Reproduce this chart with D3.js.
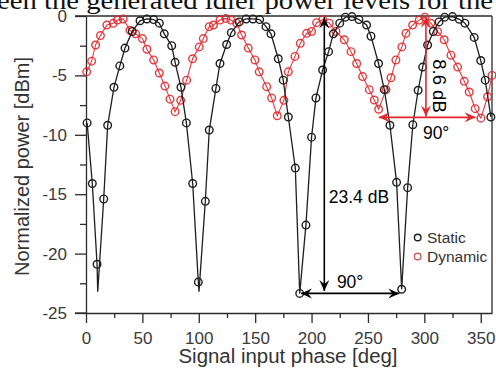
<!DOCTYPE html>
<html><head><meta charset="utf-8">
<script src="https://cdn.jsdelivr.net/npm/d3@7"></script>
<style>
html,body{margin:0;padding:0;background:#fff;}
svg{display:block;}
text{font-family:"Liberation Sans",Arial,Helvetica,sans-serif;}
</style></head>
<body>
<svg id="c" width="496" height="376"></svg>
<script>
// ---- data ----
const staticPhase = [1,5.6,9.8,15.7,19.2,24.8,30,34.6,41,47.9,54,60,65,69.4,76,79,84.2,89,94.6,99.6,105.8,109.3,115.2,118.8,124.7,128.8,135.9,142,148,154,159.6,164,170.5,174.9,179.4,185.6,189.5,195,200,203.9,209.8,215.1,219.3,225,230,235.8,242,248.8,252.7,259.4,264.5,269.5,275.4,279.9,285.2,289.8,294.5,298.5,302.9,308,313,318,325,331,336,344.2,350,354,359];
const staticPower = [-9.0,-14.1,-20.9,-15.4,-9.2,-6.0,-4.2,-2.7,-1.3,-0.4,-0.25,-0.3,-0.6,-1.5,-2.5,-3.9,-6.0,-9.0,-14.1,-22.4,-15.6,-9.6,-6.1,-4.0,-2.4,-1.4,-0.5,-0.25,-0.25,-0.3,-0.9,-1.5,-3.6,-5.4,-8.5,-12.8,-23.35,-17.6,-10.2,-6.9,-4.55,-3.0,-1.5,-0.6,-0.1,-0.05,-0.3,-0.76,-1.7,-4.0,-6.2,-9.2,-14.0,-23.0,-14.45,-9.15,-6.25,-4.3,-2.44,-1.3,-0.5,-0.1,-0.05,-0.28,-0.6,-1.8,-3.75,-5.4,-8.5];
// extra vertices of the static curve at its two deepest nulls
const staticNullPhase = [10.4,100.2];
const staticNullPower = [-23.2,-23.2];

const dynamicPhase = [0.6,5,8.5,12.8,18.5,24.2,28,33,39,44,50,54,60,65,70,74.5,79,84,89.2,94.5,100.4,104,109.3,113,118.8,124,128.5,133.6,138,143.9,149.8,153.6,160.2,164.6,169.6,175.5,179.4,185.3,190,195.6,200,204.5,210,215.7,221.6,229,235,240,245.3,251.2,255.6,259.5,266,270.4,274.8,280.1,283.7,289.6,295.5,300.5,305.9,311.8,317.6,323.6,329.5,335.4,339.8,345.1,350.2,356.1,360];
const dynamicPower = [-4.7,-3.8,-2.44,-1.65,-0.76,-0.62,-0.34,-0.25,-1.2,-1.5,-1.9,-2.8,-3.7,-4.8,-5.9,-7.0,-8.05,-7.1,-5.4,-3.6,-2.6,-1.9,-0.9,-0.76,-0.34,-0.2,-0.34,-0.6,-1.6,-2.7,-3.7,-4.7,-5.95,-6.9,-8.4,-7.1,-4.7,-3.4,-2.3,-1.46,-1.3,-0.56,-0.3,-0.6,-1.3,-2.0,-3.0,-4.0,-5.1,-6.2,-7.07,-7.85,-6.2,-5.2,-3.7,-2.6,-1.46,-0.76,-0.34,-0.1,-0.62,-1.32,-2.0,-3.3,-4.3,-5.5,-6.4,-7.8,-8.6,-6.8,-5.0];

const xTicks = [0,50,100,150,200,250,300,350];
const xMinorTicks = [25,75,125,175,225,275,325];
const yTicks = [0,-5,-10,-15,-20,-25];
const yMinorTicks = [-2.5,-7.5,-12.5,-17.5,-22.5];

const seriesNames = ["Static","Dynamic"];
const xTitle = "Signal input phase [deg]";
const yTitle = "Normalized power [dBm]";
const headerText = "een the generated idler power levels for the";

// annotations in data units: [phase, power]
const blackDepthArrow = [[211.3,-0.1],[211.3,-23.15]];
const blackPeriodArrow = [[190.6,-23.35],[277.8,-23.35]];
const redDepthArrow = [[301.4,-0.05],[301.4,-8.45]];
const redPeriodArrow = [[259.6,-8.53],[345.4,-8.53]];
const labelDepthBlack = "23.4 dB";
const labelDepthRed = "8.6 dB";
const labelPeriod = "90°";

// ---- drawing ----
const svg = d3.select("#c");
const pL = 86, pR = 492, pT = 16, pB = 313;
const x = d3.scaleLinear().domain([0,360]).range([pL,pR]);
const y = d3.scaleLinear().domain([-25,0]).range([pB,pT]);

const axisCol = "#2b2b2b", labCol = "#3a3a3a";
const BLACK = "#1e1e1e", RED = "#e3262a";
const fmt = d => String(d);

// header text (cut at top)
svg.append("text").attr("x",-3).attr("y",8.8)
  .attr("textLength",496).attr("lengthAdjust","spacingAndGlyphs")
  .style("font-family","'Liberation Serif','Times New Roman',serif")
  .style("font-size","26px").attr("fill","#111").text(headerText);

// frame top and right
svg.append("line").attr("x1",pL-11).attr("x2",pR).attr("y1",pT).attr("y2",pT)
  .attr("stroke",axisCol).attr("stroke-width",1.3);
svg.append("line").attr("x1",pR).attr("x2",pR).attr("y1",pT).attr("y2",pB)
  .attr("stroke",axisCol).attr("stroke-width",1.3);

// axes
const gx = svg.append("g").attr("transform",`translate(0,${pB})`)
  .call(d3.axisBottom(x).tickValues(xTicks).tickSize(10).tickSizeOuter(0).tickPadding(9).tickFormat(fmt));
const gxm = svg.append("g").attr("transform",`translate(0,${pB})`)
  .call(d3.axisBottom(x).tickValues(xMinorTicks).tickSize(5).tickSizeOuter(0).tickFormat(""));
gxm.select(".domain").remove();
const gy = svg.append("g").attr("transform",`translate(${pL},0)`)
  .call(d3.axisLeft(y).tickValues(yTicks).tickSize(11).tickSizeOuter(0).tickPadding(8).tickFormat(fmt));
const gym = svg.append("g").attr("transform",`translate(${pL},0)`)
  .call(d3.axisLeft(y).tickValues(yMinorTicks).tickSize(6).tickSizeOuter(0).tickFormat(""));
gym.select(".domain").remove();
svg.selectAll(".domain,.tick line").attr("stroke",axisCol).attr("stroke-width",1.3);
svg.selectAll(".tick text").attr("fill",labCol).style("font-size","17px")
  .style("font-family","'Liberation Sans',Arial,sans-serif");
gx.selectAll(".tick text").attr("dy","0.71em");
// extend bottom axis line to left tick end
svg.append("line").attr("x1",pL-11).attr("x2",pL).attr("y1",pB).attr("y2",pB)
  .attr("stroke",axisCol).attr("stroke-width",1.3);

// titles
svg.append("text").attr("x",(178+398)/2).attr("y",362.5).attr("text-anchor","middle")
  .attr("textLength",219).attr("lengthAdjust","spacingAndGlyphs")
  .attr("fill","#333").style("font-size","20px").text(xTitle);
svg.append("text").attr("transform","translate(28.5,166.5) rotate(-90)").attr("text-anchor","middle")
  .attr("textLength",219).attr("lengthAdjust","spacingAndGlyphs")
  .attr("fill","#333").style("font-size","20px").text(yTitle);

// series
const staticPts = staticPhase.map((p,i)=>[p,staticPower[i]]);
const staticLinePts = staticPts.concat(staticNullPhase.map((p,i)=>[p,staticNullPower[i]]))
  .sort((a,b)=>a[0]-b[0]);
const dynPts = dynamicPhase.map((p,i)=>[p,dynamicPower[i]]);
const line = d3.line().x(d=>x(d[0])).y(d=>y(d[1]));

svg.append("path").datum(dynPts).attr("d",line).attr("fill","none")
  .attr("stroke",RED).attr("stroke-width",1.1).attr("opacity",0.9);
svg.append("g").selectAll("circle").data(dynPts).join("circle")
  .attr("cx",d=>x(d[0])).attr("cy",d=>y(d[1])).attr("r",3.8)
  .attr("fill","none").attr("stroke",RED).attr("stroke-width",1.4).attr("opacity",0.9);

svg.append("path").datum(staticLinePts).attr("d",line).attr("fill","none")
  .attr("stroke",BLACK).attr("stroke-width",1.3);
svg.append("g").selectAll("circle").data(staticPts).join("circle")
  .attr("cx",d=>x(d[0])).attr("cy",d=>y(d[1])).attr("r",3.8)
  .attr("fill","none").attr("stroke",BLACK).attr("stroke-width",1.4);

// arrows
const defs = svg.append("defs");
function marker(id,col){
  defs.append("marker").attr("id",id).attr("viewBox","-12 -6 14 12")
    .attr("refX",0).attr("refY",0).attr("markerWidth",14).attr("markerHeight",12)
    .attr("markerUnits","userSpaceOnUse").attr("orient","auto-start-reverse")
    .append("path").attr("d","M0,0 L-11,-5 L-7,0 L-11,5 Z").attr("fill",col);
}
marker("ak","#000"); marker("ar",RED);
function arrow(pts,col,id){
  svg.append("line").attr("x1",x(pts[0][0])).attr("y1",y(pts[0][1]))
    .attr("x2",x(pts[1][0])).attr("y2",y(pts[1][1]))
    .attr("stroke",col).attr("stroke-width",1.6)
    .attr("marker-start",`url(#${id})`).attr("marker-end",`url(#${id})`);
}
arrow(blackDepthArrow,"#000","ak");
arrow(blackPeriodArrow,"#000","ak");
arrow(redDepthArrow,RED,"ar");
arrow(redPeriodArrow,RED,"ar");

// annotation labels
svg.append("text").attr("x",x(blackDepthArrow[0][0])+4.5).attr("y",202.7)
  .attr("fill","#000").style("font-size","17.5px").text(labelDepthBlack);
svg.append("text").attr("x",x((blackPeriodArrow[0][0]+blackPeriodArrow[1][0])/2)).attr("y",287.5)
  .attr("text-anchor","middle").attr("fill","#000").style("font-size","17.5px").text(labelPeriod);
svg.append("text").attr("x",x((redPeriodArrow[0][0]+redPeriodArrow[1][0])/2)+9).attr("y",139.3)
  .attr("text-anchor","middle").attr("fill","#000").style("font-size","17.5px").text(labelPeriod);
svg.append("text").attr("transform",`translate(${x(redDepthArrow[0][0])+7},86) rotate(90)`)
  .attr("text-anchor","middle").attr("fill","#000").style("font-size","18.5px").text(labelDepthRed);

// legend
const leg = svg.append("g");
const legCols = [BLACK,"#d05a5a"];
const legY = [237.5,256.5];
seriesNames.forEach((n,i)=>{
  leg.append("circle").attr("cx",417.7).attr("cy",legY[i]).attr("r",3.3)
    .attr("fill","none").attr("stroke",legCols[i]).attr("stroke-width",1.4);
  leg.append("text").attr("x",427).attr("y",legY[i]+5.6).attr("fill","#333")
    .style("font-size","15.5px").text(n);
});
</script>
</body></html>
